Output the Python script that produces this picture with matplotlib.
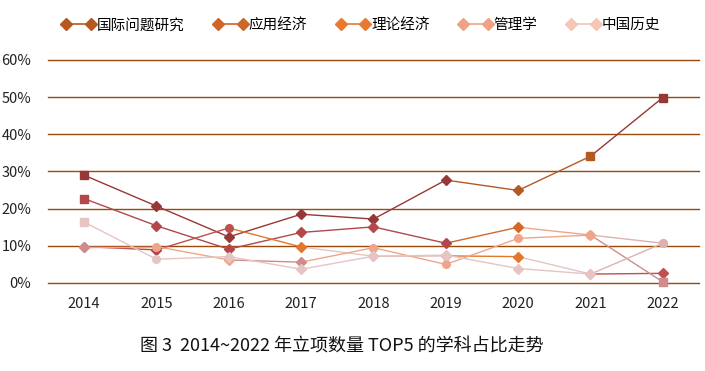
import numpy as np
import matplotlib
matplotlib.use('Agg')
import matplotlib.pyplot as plt
from matplotlib.lines import Line2D

plt.rcParams['font.family'] = ['Noto Sans CJK SC', 'DejaVu Sans']
plt.rcParams['axes.unicode_minus'] = False

# 数据（百分比）
years = ['2014', '2015', '2016', '2017', '2018', '2019', '2020', '2021', '2022']
names = ['国际问题研究', '应用经济', '理论经济', '管理学', '中国历史']
s1 = [29.0, 20.7, 12.4, 18.5, 17.2, 27.7, 24.9, 34.1, 49.9]
s2 = [22.7, 15.4, 9.1, 13.6, 15.1, 10.7, 15.0, 12.9, 10.7]
s3 = [9.8, 8.9, 14.8, 9.7, 7.2, 7.3, 7.1, 2.4, 2.6]
s4 = [9.8, 9.8, 6.2, 5.6, 9.5, 5.0, 12.0, 12.9, 0.3]
s5 = [16.4, 6.4, 7.1, 3.7, 7.2, 7.5, 3.9, 2.4, 10.7]
series = [s1, s2, s3, s4, s5]

# 颜色
legend_colors = ['#B5591F', '#CC6629', '#E8792F', '#EFA385', '#F4C6B6']
maroon, red, rose = '#963836', '#B3484A', '#C0504D'
mauve, pink, lpink = '#D08C8C', '#DDB2B2', '#E7C4C4'
brown, orange, peach = '#B35A23', '#E3772E', '#EFA688'
point_colors = [
    [maroon] * 6 + [brown, brown, maroon],
    [red] * 6 + ['#D2692A', peach, pink],
    [mauve, red, rose, orange, lpink, pink, orange, lpink, rose],
    [mauve, peach, peach, mauve, peach, peach, peach, peach, mauve],
    [lpink, lpink, lpink, lpink, lpink, lpink, lpink, lpink, pink],
]
point_markers = [
    ['s', 'D', 'D', 'D', 'D', 'D', 'D', 's', 's'],
    ['s', 'D', 'D', 'D', 'D', 'D', 'D', 'D', 'o'],
    ['D', 'D', 'o', 'D', 'D', 'D', 'D', 'D', 'D'],
    ['D', 'o', 'D', 'D', 'o', 'o', 'o', 'o', 's'],
    ['s', 'o', 'D', 'D', 'D', 'D', 'D', 'D', 'o'],
]

fig = plt.figure(figsize=(7.05, 3.71), dpi=100)
ax = fig.add_axes([0.068, 0.2372, 0.9235, 0.6011])

x = np.arange(len(years))
grid_c = '#9C4A0C'
for v in range(0, 70, 10):
    ax.axhline(v, color=grid_c, lw=1.0, zorder=1, clip_on=False)

for k, s in enumerate(series):
    cols = point_colors[k]
    for i in range(len(x) - 1):
        ax.plot(x[i:i + 2], s[i:i + 2], color=cols[i + 1], lw=1.0, zorder=2)
    for i in range(len(x)):
        m = point_markers[k][i]
        ms = 5 if m == 'D' else 5.5
        ax.plot(x[i], s[i], marker=m, ms=ms, color=cols[i],
                mec=cols[i], ls='none', zorder=3, clip_on=False)

ax.set_xlim(-0.5, 8.5)
ax.set_ylim(0, 60)
ax.set_xticks(x)
ax.set_xticklabels(years, fontsize=10.5, color='#222222')
ax.set_yticks(range(0, 70, 10))
ax.set_yticklabels([f'{v}%' for v in range(0, 70, 10)], fontsize=10.5, color='#222222')
ax.tick_params(length=0, pad=10)
ax.tick_params(axis='y', pad=12)
for sp in ax.spines.values():
    sp.set_visible(False)

handles = [Line2D([0, 1], [0, 0], color=c, marker='D', ms=6, lw=1.2) for c in legend_colors]
fig.legend(handles, names, loc='center', bbox_to_anchor=(0.512, 0.932), ncol=5,
           frameon=False, fontsize=10.5, numpoints=2, handlelength=2.3,
           handletextpad=0.1, columnspacing=2.0)

fig.text(0.485, 0.065, '图 3  2014~2022 年立项数量 TOP5 的学科占比走势',
         ha='center', va='center', fontsize=13, color='#111111')

fig.savefig('out.png', dpi=100)
